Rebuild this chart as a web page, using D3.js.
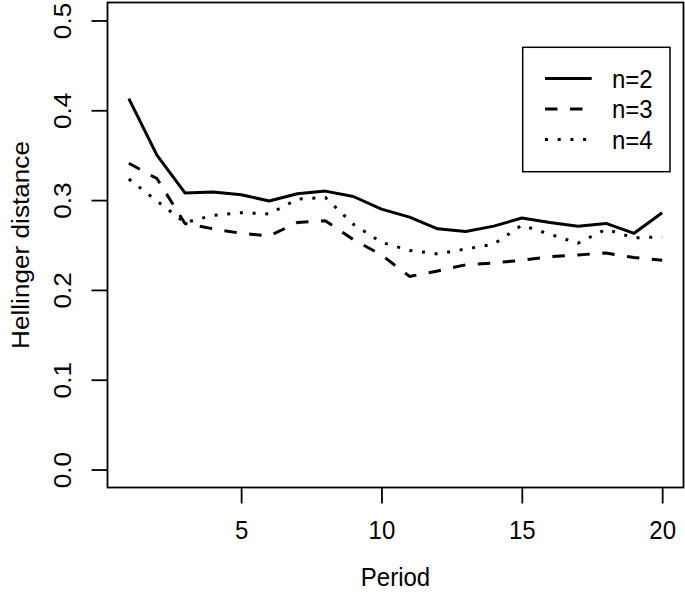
<!DOCTYPE html>
<html>
<head>
<meta charset="utf-8">
<script src="https://cdn.jsdelivr.net/npm/d3@7"></script>
<style>
  html, body { margin: 0; padding: 0; background: #fff; }
  svg { display: block; }
  text { font-family: "Liberation Sans", Arial, Helvetica, sans-serif; fill: #000; }
</style>
</head>
<body>
<svg id="chart" width="685" height="593"></svg>
<script>
// ---- data ----
const periods = d3.range(1, 21);
const n2 = [0.413, 0.350, 0.308, 0.309, 0.306, 0.299, 0.307, 0.310, 0.304, 0.290,
            0.281, 0.268, 0.265, 0.271, 0.280, 0.275, 0.271, 0.274, 0.263, 0.286];
const n3 = [0.341, 0.324, 0.274, 0.268, 0.263, 0.260, 0.275, 0.277, 0.256, 0.239,
            0.215, 0.221, 0.228, 0.230, 0.233, 0.237, 0.239, 0.241, 0.236, 0.233];
const n4 = [0.3235, 0.299, 0.275, 0.283, 0.286, 0.2845, 0.301, 0.303, 0.273, 0.253,
            0.244, 0.240, 0.2455, 0.251, 0.272, 0.262, 0.252, 0.2675, 0.258, 0.259];
const seriesNames = ["n=2", "n=3", "n=4"];
const xTicks = [5, 10, 15, 20];
const yTicks = [0, 0.1, 0.2, 0.3, 0.4, 0.5];
const xTitle = "Period";
const yTitle = "Hellinger distance";

// ---- layout ----
const L = 107.5, R = 683.5, T = 2.5, B = 487.5;
const FS = 24, SY = 1.09;
const dashes = [null, "12.5,12.5", "3,9.7"];

const svg = d3.select("#chart");
const x = d3.scaleLinear().domain([0.24, 20.76]).range([L, R]);
const y = d3.scaleLinear().domain([-0.02, 0.52]).range([B, T]);

// lines
const line = d3.line().x((d, i) => x(periods[i])).y(d => y(d));
[n2, n3, n4].forEach((s, k) => {
  svg.append("path").datum(s)
    .attr("d", line)
    .attr("fill", "none")
    .attr("stroke", "#000")
    .attr("stroke-width", 3)
    .attr("stroke-linejoin", "round")
    .attr("stroke-dasharray", dashes[k]);
});

// box
svg.append("rect").attr("x", L).attr("y", T).attr("width", R - L).attr("height", B - T)
  .attr("fill", "none").attr("stroke", "#000").attr("stroke-width", 1.8);

// x axis
const gx = svg.append("g").attr("transform", `translate(0,${B})`)
  .call(d3.axisBottom(x).tickValues(xTicks).tickSize(16).tickFormat(d3.format("d")));
gx.select(".domain").remove();
gx.selectAll(".tick line").attr("stroke", "#000").attr("stroke-width", 1.8);
gx.selectAll(".tick text")
  .attr("y", 52 / SY).attr("dy", null)
  .attr("transform", `scale(1,${SY})`)
  .style("font-size", FS + "px").attr("fill", "#000");

// y axis
const gy = svg.append("g").attr("transform", `translate(${L},0)`)
  .call(d3.axisLeft(y).tickValues(yTicks).tickSize(16).tickFormat(d3.format(".1f")));
gy.select(".domain").remove();
gy.selectAll(".tick line").attr("stroke", "#000").attr("stroke-width", 1.8);
gy.selectAll(".tick text")
  .attr("x", 0).attr("y", 0).attr("dy", null)
  .attr("text-anchor", "middle")
  .attr("transform", `translate(-37,0) rotate(-90) scale(${SY},1)`)
  .style("font-size", FS + "px").attr("fill", "#000");

// titles
svg.append("text")
  .attr("transform", `translate(${(L + R) / 2},586) scale(1,${SY})`)
  .attr("text-anchor", "middle").style("font-size", FS + "px").text(xTitle);
svg.append("text")
  .attr("transform", `translate(29,${(T + B) / 2}) rotate(-90) scale(${SY},1)`)
  .attr("text-anchor", "middle").style("font-size", FS + "px").text(yTitle);

// legend
const lg = svg.append("g");
lg.append("rect").attr("x", 522.7).attr("y", 47.3).attr("width", 147.3).attr("height", 124.4)
  .attr("fill", "#fff").attr("stroke", "#000").attr("stroke-width", 1.5);
const rows = [78.5, 109, 139.5];
seriesNames.forEach((nm, k) => {
  lg.append("line").attr("x1", 545).attr("x2", 591.7).attr("y1", rows[k]).attr("y2", rows[k])
    .attr("stroke", "#000").attr("stroke-width", 3).attr("stroke-dasharray", dashes[k]);
  lg.append("text")
    .attr("transform", `translate(612,${rows[k] + 9.4}) scale(1,${SY})`)
    .style("font-size", FS + "px").text(nm);
});
</script>
</body>
</html>
